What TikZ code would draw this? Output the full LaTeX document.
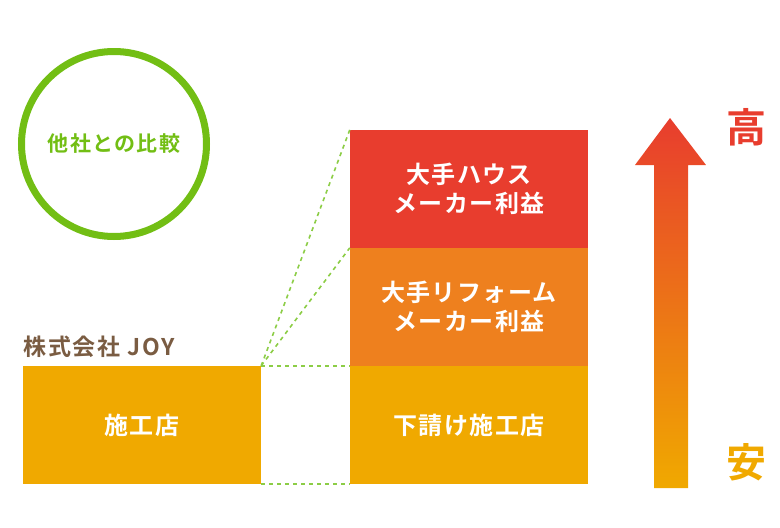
\documentclass[tikz,border=0pt]{standalone}
\usepackage{fontspec}
\newfontfamily\jp{Noto Sans CJK JP}[BoldFont={Noto Sans CJK JP Bold}]
\newfontfamily\jpw{Noto Sans CJK JP}[BoldFont={Noto Sans CJK JP Bold}, LetterSpace=6]
\newfontfamily\jpn{Noto Sans CJK JP}[BoldFont={Noto Sans CJK JP Bold}, LetterSpace=8]
\definecolor{cgreen}{RGB}{114,190,20}
\definecolor{cdash}{RGB}{140,205,70}
\definecolor{cbrown}{RGB}{122,92,66}
\definecolor{cred}{RGB}{232,61,46}
\definecolor{corange}{RGB}{238,128,30}
\definecolor{cyellow}{RGB}{240,169,0}
\tikzset{
  band/.style={minimum width=238pt, minimum height=118pt, inner sep=0pt,
    text=white, align=center, font=\jpw\bfseries\fontsize{24}{29}\selectfont},
  link/.style={cdash, dashed, line width=1.6pt, dash pattern=on 4pt off 4pt}
}
\begin{document}
\begin{tikzpicture}[x=1pt,y=-1pt]
    \useasboundingbox (0,0) rectangle (780,528);
    % comparison badge
    \node[circle, draw=cgreen, line width=7pt, minimum size=185pt, text=cgreen,
      font=\jpw\bfseries\fontsize{21}{24}\selectfont] (cmp) at (114,144) {他社との比較};
    % own company
    \node[band, fill=cyellow] (joy) at (142,425) {施工店};
    \node[anchor=south west, inner sep=0pt, text=cbrown,
      font=\jpn\bfseries\fontsize{23}{26}\selectfont] (name) at (23,358) {株式会社 JOY};
    % other companies
    \node[band, fill=cred] (house) at (469,189) {大手ハウス\\メーカー利益};
    \node[band, fill=corange] (reform) at (469,307) {大手リフォーム\\メーカー利益};
    \node[band, fill=cyellow] (sub) at (469,425) {下請け施工店};
    \draw[link] (joy.north east) -- (house.north west);
    \draw[link] (joy.north east) -- (reform.north west);
    \draw[link] (joy.north east) -- (sub.north west);
    \draw[link] (joy.south east) -- (sub.south west);
    % price arrow
    \shade[top color=cred, bottom color=cyellow]
      (654,488) -- (654,165) -- (635,165) -- (670,118) -- (706,165)
      -- (688,165) -- (688,488) -- cycle;
    \node[text=cred, font=\jp\bfseries\fontsize{40}{42}\selectfont] (high) at (746,127) {高};
    \node[text=cyellow, font=\jp\bfseries\fontsize{40}{42}\selectfont] (low) at (746,462) {安};
\end{tikzpicture}
\end{document}
